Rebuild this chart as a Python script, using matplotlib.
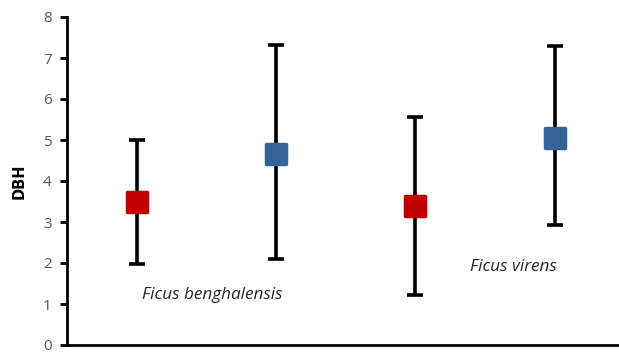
import matplotlib
matplotlib.use("Agg")
import matplotlib.pyplot as plt
from matplotlib.markers import MarkerStyle

positions = [1, 2, 3, 4]
means = [3.50, 4.67, 3.38, 5.04]
upper = [4.99, 7.32, 5.55, 7.30]
lower = [1.97, 2.09, 1.22, 2.92]
colors = ["#C00000", "#35649A", "#C00000", "#35649A"]
labels = ["Ficus benghalensis", "Ficus virens"]
label_x = [1.54, 3.70]
label_y = [1.22, 1.90]
yticks = [0, 1, 2, 3, 4, 5, 6, 7, 8]

fig = plt.figure(figsize=(6.19, 3.54), dpi=100)
ax = fig.add_axes([67/619, 9/354, 1 - 67/619, 328/354])

for x, m, u, l, c in zip(positions, means, upper, lower, colors):
    ax.errorbar([x], [m], yerr=[[m - l], [u - m]], fmt="none", ecolor="black",
                elinewidth=2.6, capsize=6, capthick=2.6, zorder=2)
    ax.plot([x], [m], linestyle="none",
            marker=MarkerStyle("s", joinstyle="round"), markersize=14.5,
            markerfacecolor=c, markeredgecolor=c, markeredgewidth=2.5, zorder=3)

for t, x, y in zip(labels, label_x, label_y):
    ax.text(x, y, t, style="italic", fontsize=12.3, color="#262626",
            family="Open Sans", ha="center", va="center")

ax.set_xlim(0.5, 4.46)
ax.set_ylim(0, 8)
ax.set_yticks(yticks)
ax.set_xticks([])
ax.tick_params(axis="y", direction="out", length=5, width=2, color="black",
               labelcolor="#595959", labelsize=11, pad=6)
for s in ["top", "right"]:
    ax.spines[s].set_visible(False)
for s in ["left", "bottom"]:
    ax.spines[s].set_linewidth(2)
ax.spines["bottom"].set_color("black")
ax.set_ylabel("DBH", fontweight="bold", fontsize=10.5)
ax.yaxis.set_label_coords(-0.074, 0.5)
for lab in ax.get_yticklabels():
    lab.set_family("Open Sans")

fig.savefig("out.png", dpi=100)
